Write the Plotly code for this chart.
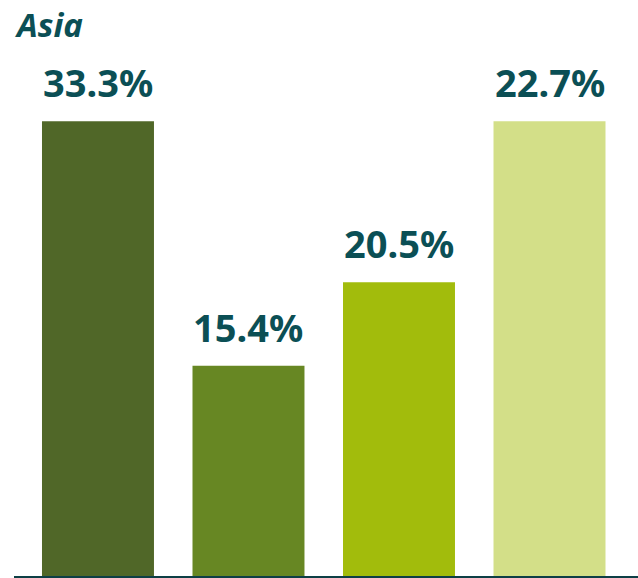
import plotly.graph_objects as go

categories = ["A", "B", "C", "D"]
bar_heights = [33.3, 15.4, 21.5, 33.3]
labels = ["33.3%", "15.4%", "20.5%", "22.7%"]
colors = ["#506728", "#678723", "#a2bc0c", "#d3df88"]
title_text = "Asia"

TEXT = "#0b4f55"
W, H = 638, 578
ML, MR, MT, MB = 14, 0, 0, 2
plot_h = H - MT - MB

fig = go.Figure()
fig.add_trace(go.Bar(
    x=list(range(len(categories))),
    y=bar_heights,
    marker=dict(color=colors, line=dict(width=0)),
    width=0.744,
    hoverinfo="skip",
))

for i, (v, t) in enumerate(zip(bar_heights, labels)):
    fig.add_annotation(x=i, y=v, xref="x", yref="y", text=f"<b>{t}</b>",
                       showarrow=False, yanchor="bottom", yshift=11,
                       font=dict(family="Noto Sans", size=38, color=TEXT))

fig.add_annotation(x=-1/624, y=1, xref="paper", yref="paper",
                   text=f"<b><i>{title_text}</i></b>", showarrow=False,
                   xanchor="left", yanchor="top", yshift=0,
                   font=dict(family="Noto Sans", size=33, color=TEXT))

fig.add_shape(type="line", xref="paper", yref="paper", x0=0, x1=1,
              y0=-1/plot_h, y1=-1/plot_h, line=dict(color="#0d3f45", width=2))

fig.update_layout(
    width=W, height=H,
    margin=dict(l=ML, r=MR, t=MT, b=MB, pad=0),
    paper_bgcolor="white", plot_bgcolor="white",
    showlegend=False,
    xaxis=dict(range=[-0.558, 3.588], visible=False, fixedrange=True),
    yaxis=dict(range=[0, 42.17], visible=False, fixedrange=True),
)

fig.write_html("out.html", config={"displayModeBar": False},
               post_script="document.body.style.margin='0';document.body.style.overflow='hidden';")
